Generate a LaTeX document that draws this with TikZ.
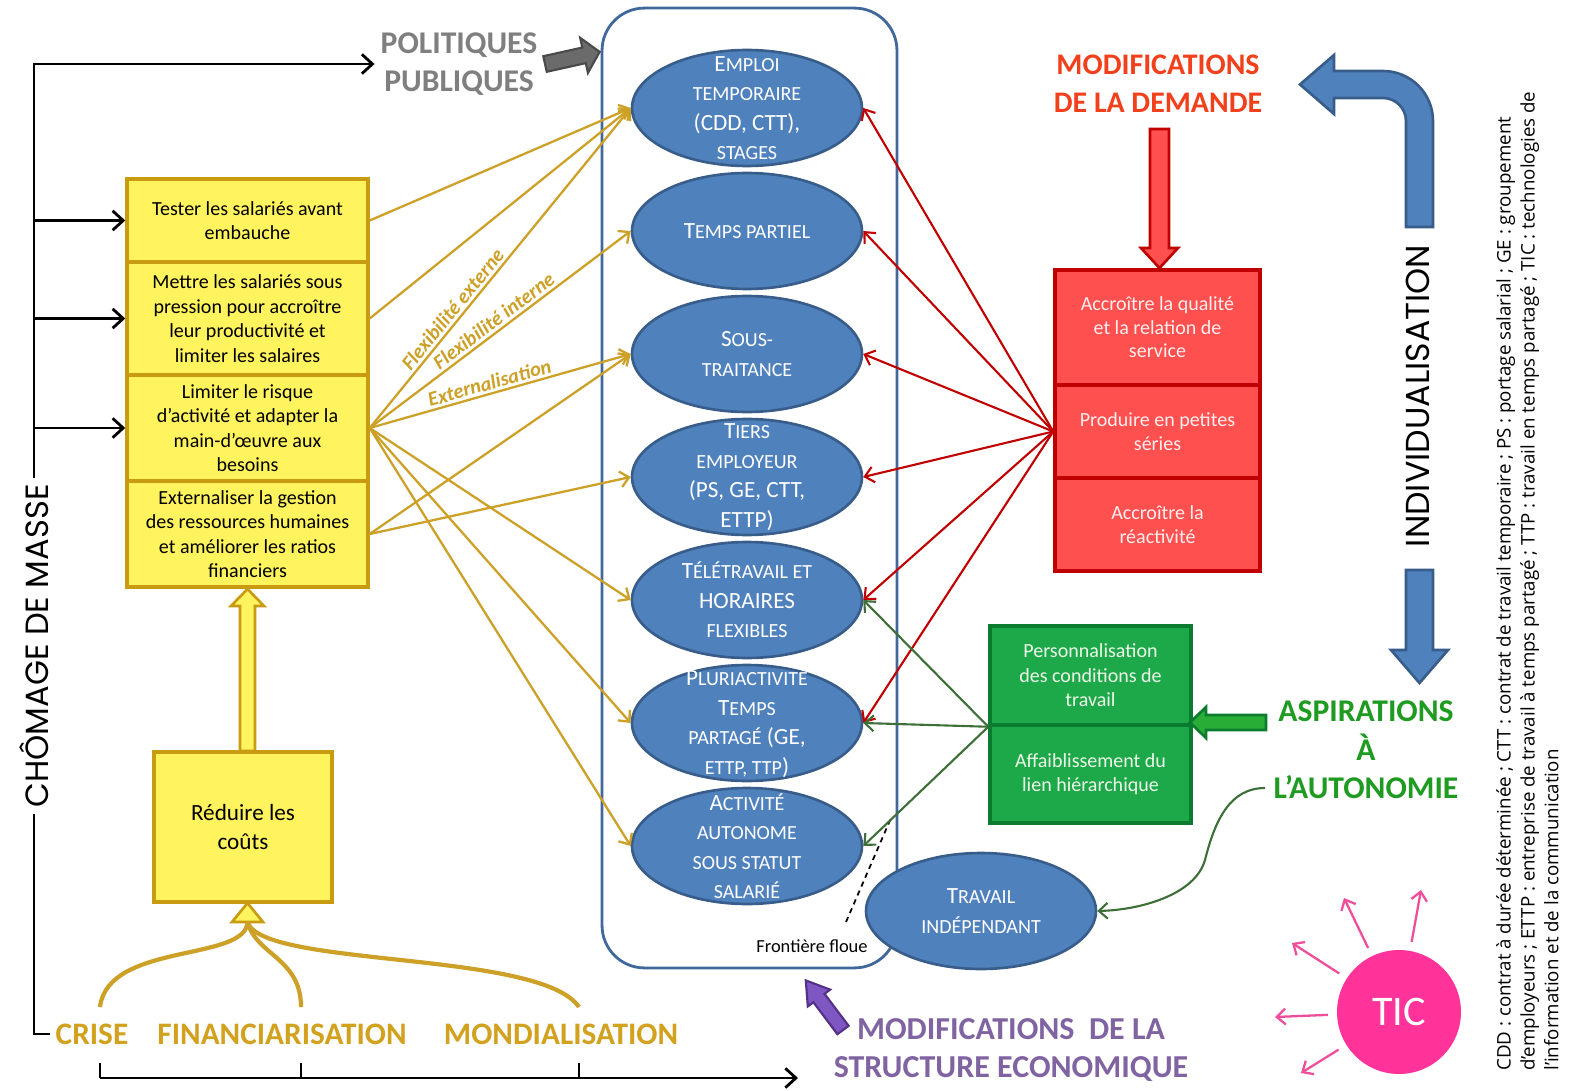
\documentclass[tikz,border=0pt]{standalone}
\usepackage{fontspec}
\setmainfont{Carlito}
\newfontfamily\gothique{Poppins}
\newfontfamily\legende{Open Sans}
\usetikzlibrary{arrows.meta,shapes.geometric}
\definecolor{Jaune}{HTML}{FFF35E}
\definecolor{OrFonce}{HTML}{C89B10}
\definecolor{Or}{HTML}{CDA128}
\definecolor{OrTitre}{HTML}{D2A11E}
\definecolor{Bleu}{HTML}{4F81BD}
\definecolor{BleuFonce}{HTML}{385D8A}
\definecolor{BleuCadre}{HTML}{41689A}
\definecolor{Rouge}{HTML}{FF5050}
\definecolor{RougeFonce}{HTML}{C00000}
\definecolor{RougeTitre}{HTML}{F2401C}
\definecolor{RoseClair}{HTML}{FFEDED}
\definecolor{Vert}{HTML}{1DA84A}
\definecolor{VertFonce}{HTML}{0B7B30}
\definecolor{VertFleche}{HTML}{3E6F38}
\definecolor{VertTitre}{HTML}{1F9B22}
\definecolor{VertBloc}{HTML}{28AE36}
\definecolor{VertClair}{HTML}{EEF8E8}
\definecolor{Gris}{HTML}{7F7F7F}
\definecolor{GrisBloc}{HTML}{6B6B6B}
\definecolor{GrisFonce}{HTML}{4A4A4A}
\definecolor{Violet}{HTML}{8064A2}
\definecolor{VioletBloc}{HTML}{7E57C2}
\definecolor{VioletFonce}{HTML}{553088}
\definecolor{Rose}{HTML}{FF3399}
\definecolor{RoseFleche}{HTML}{EE4E9A}
\tikzstyle{goalBlock}=[draw=OrFonce,fill=Jaune,line width=2pt,minimum width=4.82cm,inner sep=0pt,align=center,text=black,font=\fontsize{11.4}{13.9}\selectfont]
\tikzstyle{demandBlock}=[draw=RougeFonce,fill=Rouge,line width=2pt,minimum width=4.1cm,inner sep=0pt,align=center,text=RoseClair,font=\fontsize{11.4}{13.4}\selectfont]
\tikzstyle{aspirBlock}=[draw=VertFonce,fill=Vert,line width=2pt,minimum width=4.02cm,inner sep=0pt,align=center,text=VertClair,font=\fontsize{11.4}{13.9}\selectfont]
\tikzstyle{formEllipse}=[ellipse,draw=BleuFonce,fill=Bleu,line width=1.5pt,minimum width=4.6cm,minimum height=2.32cm,inner sep=0pt]
\tikzstyle{formText}=[text=white,align=center,inner sep=0pt,font=\fontsize{13.2}{16.8}\selectfont]
\tikzstyle{titleText}=[align=center,font=\bfseries\fontsize{18}{22}\selectfont]
\tikzstyle{causeText}=[text=OrTitre,font=\bfseries\fontsize{17.8}{20}\selectfont]
\tikzstyle{flexLabel}=[sloped,above,text=Or,inner sep=1.5pt,font=\bfseries\itshape\fontsize{11.6}{13}\selectfont]
\tikzstyle{goldTransition}=[draw=Or,line width=1.3pt,-{Straight Barb[length=5pt,width=9pt]}]
\tikzstyle{redTransition}=[draw=RougeFonce,line width=1.2pt,-{Straight Barb[length=5pt,width=9pt]}]
\tikzstyle{greenTransition}=[draw=VertFleche,line width=1.2pt,-{Straight Barb[length=5pt,width=9pt]}]
\tikzstyle{ticTransition}=[draw=RoseFleche,line width=1.3pt,shorten <=5pt,-{Straight Barb[length=5pt,width=9pt]}]
\tikzstyle{blackLine}=[line width=1.6pt]
\tikzstyle{blackTransition}=[line width=1.6pt,-{Straight Barb[length=6pt,width=11pt]}]
\tikzstyle{forkLine}=[draw=Or,line width=2.4pt]
\newcommand{\sct}[1]{{\fontsize{11.4}{16.8}\selectfont\MakeUppercase{#1}}}

\begin{document}
\begin{tikzpicture}[x=0.02cm,y=-0.02cm]
    \path[use as bounding box,fill=white] (0,0) rectangle (1572,1091);

    % Cadre des formes d'emploi
    \node[draw=BleuCadre,line width=1.6pt,rounded corners=0.85cm,minimum width=5.9cm,minimum height=19.2cm] (cadre) at (749.5,488) {};

    % Formes d'emploi
    \node[formEllipse] (E1) at (747,108) {};
    \node[formEllipse] (E2) at (747,231) {};
    \node[formEllipse] (E3) at (747,354) {};
    \node[formEllipse] (E4) at (747,477) {};
    \node[formEllipse] (E5) at (747,600) {};
    \node[formEllipse] (E6) at (747,723) {};
    \node[formEllipse] (E7) at (747,846) {};
    \node[formEllipse] (TI) at (981,911) {};
    \node[formText] (E1t) at (E1) {E\sct{mploi}\\\sct{temporaire}\\(CDD, CTT),\\\sct{stages}};
    \node[formText] (E2t) at (E2) {T\sct{emps partiel}};
    \node[formText] (E3t) at (E3) {S\sct{ous-}\\\sct{traitance}};
    \node[formText] (E4t) at (E4) {T\sct{iers}\\\sct{employeur}\\(PS, GE, CTT,\\ETTP)};
    \node[formText] (E5t) at (E5) {T\sct{élétravail et}\\HORAIRES\\\sct{flexibles}};
    \node[formText] (E6t) at (E6) {P\sct{luriactivité}\\T\sct{emps}\\\sct{partagé} (GE,\\\sct{ettp, ttp})};
    \node[formText] (E7t) at (E7) {A\sct{ctivité}\\\sct{autonome}\\\sct{sous statut}\\\sct{salarié}};
    \node[formText] (TIt) at (TI) {T\sct{ravail}\\\sct{indépendant}};

    % Frontiere floue
    \node[font=\fontsize{10.5}{12}\selectfont] (fr) at (812,946) {Frontière floue};
    \coordinate (flou1) at (846,922);
    \coordinate (flou2) at (891,818);
    \draw[dashed,line width=1pt,dash pattern=on 3pt off 2.5pt] (flou1) -- (flou2);

    % Objectifs des entreprises
    \node[goalBlock,minimum height=1.66cm] (tes) at (247.5,220.5) {Tester les salariés avant\\embauche};
    \node[goalBlock,minimum height=2.26cm] (met) at (247.5,318.5) {Mettre les salariés sous\\pression pour accroître\\leur productivité et\\limiter les salaires};
    \node[goalBlock,minimum height=2.12cm] (lim) at (247.5,428) {Limiter le risque\\d’activité et adapter la\\main-d’œuvre aux\\besoins};
    \node[goalBlock,minimum height=2.12cm] (ext) at (247.5,534) {Externaliser la gestion\\des ressources humaines\\et améliorer les ratios\\financiers};
    \node[goalBlock,minimum width=3.56cm,minimum height=3cm,font=\fontsize{13.2}{17}\selectfont] (cout) at (243,827) {Réduire les\\coûts};

    % Reduire les couts -> objectifs
    \filldraw[fill=Jaune,draw=OrFonce,line width=1.5pt] (240,751) -- (240,606) -- (231,606) -- (247.5,589) -- (264,606) -- (255,606) -- (255,751) -- cycle;
    \filldraw[fill=Jaune,draw=OrFonce,line width=1.5pt] (247.5,903) -- (263,922) -- (232,922) -- cycle;
    \coordinate (fork) at (247.5,922);
    \coordinate (cr) at (100,1007);
    \coordinate (fi) at (301,1007);
    \coordinate (mo) at (579,1007);
    \draw[forkLine] (fork) .. controls (246,962) and (108,942) .. (cr);
    \draw[forkLine] (fork) .. controls (256,955) and (301,958) .. (fi);
    \draw[forkLine] (fork) .. controls (262,968) and (540,950) .. (mo);

    % Causes
    \node[causeText] (crise) at (92,1034) {CRISE};
    \node[causeText] (fin) at (282,1034) {FINANCIARISATION};
    \node[causeText] (mond) at (561,1034) {MONDIALISATION};
    \draw[blackTransition] (100,1078) -- (798,1078);
    \foreach \x in {100,301,579}
        \draw[blackLine] (\x,1063) -- (\x,1078);

    % Chomage de masse
    \node[rotate=90,font=\gothique\fontsize{18.3}{20}\selectfont] (cm) at (34,646) {CHÔMAGE DE MASSE};
    \node[titleText,text=Gris] (pol) at (459,64) {POLITIQUES\\PUBLIQUES};
    \draw[blackTransition] (cm.east) |- (pol.west);
    \draw[blackTransition] (tes.west -| cm.east) -- (tes.west);
    \draw[blackTransition] (met.west -| cm.east) -- (met.west);
    \draw[blackTransition] (lim.west -| cm.east) -- (lim.west);
    \draw[blackLine] (cm.west) |- (crise.west);
    \begin{scope}[shift={(545,64)},rotate=12.5]
        \filldraw[fill=GrisBloc,draw=GrisFonce,line width=1.2pt] (0,-8) -- (40,-8) -- (40,-18) -- (56,0) -- (40,18) -- (40,8) -- (0,8) -- cycle;
    \end{scope}

    % Objectifs -> formes d'emploi
    \draw[goldTransition] (tes.east) -- (E1.west);
    \draw[goldTransition] (met.east) -- (E1.west);
    \draw[goldTransition] (lim.east) -- node[flexLabel,pos=.35] {Flexibilité externe} (E1.west);
    \draw[goldTransition] (lim.east) -- node[flexLabel,pos=.5] {Flexibilité interne} (E2.west);
    \draw[goldTransition] (lim.east) -- node[flexLabel,pos=.47] {Externalisation} (E3.west);
    \draw[goldTransition] (lim.east) -- (E5.west);
    \draw[goldTransition] (lim.east) -- (E6.west);
    \draw[goldTransition] (lim.east) -- (E7.west);
    \draw[goldTransition] (ext.east) -- (E3.west);
    \draw[goldTransition] (ext.east) -- (E4.west);

    % Modifications de la demande
    \node[titleText,font=\bfseries\fontsize{17}{21.5}\selectfont,text=RougeTitre] (dem) at (1158,84) {MODIFICATIONS\\DE LA DEMANDE};
    \filldraw[fill=Rouge,draw=RougeFonce,line width=1.5pt] (1150,129) -- (1169,129) -- (1169,248) -- (1178,248) -- (1159.5,268) -- (1141,248) -- (1150,248) -- cycle;
    \node[demandBlock,minimum height=2.3cm] (rq) at (1157.5,327.5) {Accroître la qualité\\et la relation de\\service};
    \node[demandBlock,minimum height=1.86cm] (rp) at (1157.5,431.5) {Produire en petites\\séries};
    \node[demandBlock,minimum height=1.86cm] (rr) at (1157.5,524.5) {Accroître la\\réactivité};
    \draw[redTransition] (rp.west) -- (E1.east);
    \draw[redTransition] (rp.west) -- (E2.east);
    \draw[redTransition] (rp.west) -- (E3.east);
    \draw[redTransition] (rp.west) -- (E4.east);
    \draw[redTransition] (rp.west) -- (E5.east);
    \draw[redTransition] (rp.west) -- (E6.east);

    % Aspirations a l'autonomie
    \node[aspirBlock,minimum height=1.98cm] (gp) at (1090.5,675.5) {Personnalisation\\des conditions de\\travail};
    \node[aspirBlock,minimum height=1.96cm] (ga) at (1090.5,774) {Affaiblissement du\\lien hiérarchique};
    \node[titleText,text=VertTitre] (asp) at (1366,750) {ASPIRATIONS\\À\\L’AUTONOMIE};
    \filldraw[fill=VertBloc,draw=VertFonce,line width=1.5pt] (1266,715) -- (1266,730) -- (1206,730) -- (1206,738) -- (1190,722.5) -- (1206,707) -- (1206,715) -- cycle;
    \draw[greenTransition] (gp.south west) -- (E5.east);
    \draw[greenTransition] (gp.south west) -- (E6.east);
    \draw[greenTransition] (gp.south west) -- (E7.east);
    \coordinate (autoL) at (1265,788);
    \draw[greenTransition] (autoL) .. controls (1230,788) and (1215,820) .. (1205,860) .. controls (1195,895) and (1140,910) .. (TI.east);

    % Individualisation
    \filldraw[fill=Bleu,draw=BleuFonce,line width=1.5pt] (1406,227) -- (1406,121) .. controls (1406,108.3) and (1395.7,98) .. (1383,98) -- (1334,98) -- (1334,114) -- (1300,84.5) -- (1334,55) -- (1334,71) -- (1383,71) .. controls (1410.6,71) and (1433,93.4) .. (1433,121) -- (1433,227) -- cycle;
    \node[rotate=90,font=\gothique\fontsize{18.9}{20}\selectfont] (indiv) at (1418,396) {INDIVIDUALISATION};
    \filldraw[fill=Bleu,draw=BleuFonce,line width=1.5pt] (1406,570) -- (1433,570) -- (1433,650) -- (1448,650) -- (1419.5,683) -- (1391,650) -- (1406,650) -- cycle;

    % Modifications de la structure economique
    \node[titleText,font=\bfseries\fontsize{18.2}{21.5}\selectfont,text=Violet] (struct) at (1011,1050) {MODIFICATIONS\ \ DE LA\\STRUCTURE ECONOMIQUE};
    \begin{scope}[shift={(843,1030)},rotate=126.9]
        \filldraw[fill=VioletBloc,draw=VioletFonce,line width=1.2pt] (0,-7) -- (40,-7) -- (40,-14) -- (62,0) -- (40,14) -- (40,7) -- (0,7) -- cycle;
    \end{scope}

    % TIC
    \node[circle,fill=Rose,minimum size=2.48cm,inner sep=0pt,text=white,font=\fontsize{24}{24}\selectfont] (tic) at (1399,1012) {TIC};
    \coordinate (tic1) at (1292,943);
    \coordinate (tic2) at (1344,898);
    \coordinate (tic3) at (1421,890);
    \coordinate (tic4) at (1275,1017);
    \coordinate (tic5) at (1301,1073);
    \foreach \i in {1,...,5}
        \draw[ticTransition] (tic) -- (tic\i);

    % Legende
    \node[rotate=90,anchor=north west,align=left,inner sep=0pt,font=\legende\fontsize{10.65}{13.6}\selectfont] (leg) at (1496,1071) {CDD : contrat à durée déterminée ; CTT : contrat de travail temporaire ; PS : portage salarial ; GE : groupement\\d’employeurs ; ETTP : entreprise de travail à temps partagé ; TTP : travail en temps partagé ; TIC : technologies de\\l’information et de la communication};
\end{tikzpicture}
\end{document}
